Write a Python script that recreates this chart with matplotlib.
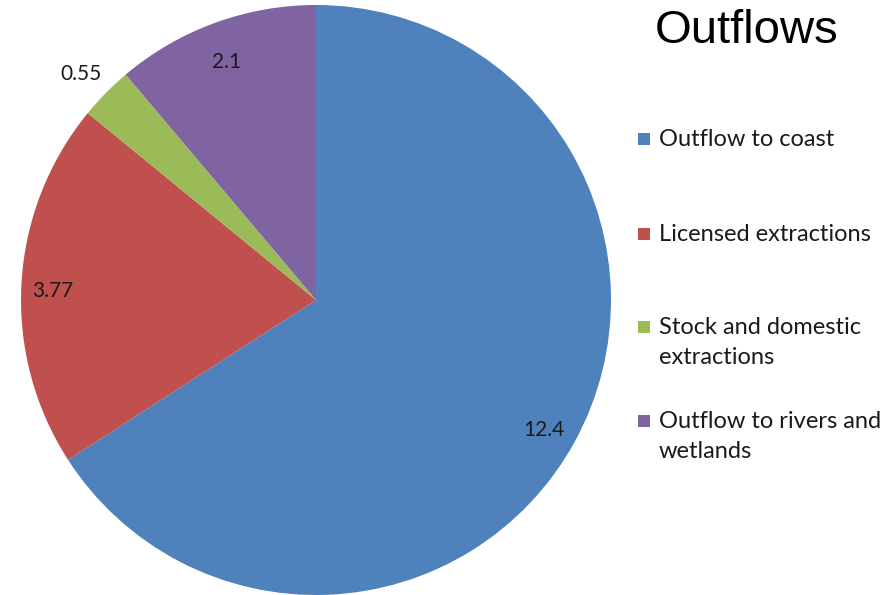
import matplotlib
matplotlib.use('Agg')
import matplotlib.pyplot as plt
from matplotlib.patches import Rectangle
import numpy as np

# Outflow components
categories = ['Outflow to coast', 'Licensed extractions',
              'Stock and domestic\nextractions', 'Outflow to rivers and\nwetlands']
values = [12.4, 3.77, 0.55, 2.1]
value_labels = ['12.4', '3.77', '0.55', '2.1']
colors = ['#4F81BD', '#C0504D', '#9BBB59', '#8064A2']
label_radius = [0.88, 0.895, 1.12, 0.88]

W, H = 894, 595
fig = plt.figure(figsize=(W / 100, H / 100), dpi=100)

ax = fig.add_axes([21 / W, 0, 590 / W, 590 / H])
wedges, _ = ax.pie(values, colors=colors, startangle=90, counterclock=False,
                   radius=1, wedgeprops=dict(linewidth=0))
ax.set_xlim(-1, 1)
ax.set_ylim(-1, 1)
ax.set_aspect('equal')
ax.axis('off')

for w, txt, r in zip(wedges, value_labels, label_radius):
    mid = np.deg2rad((w.theta1 + w.theta2) / 2)
    ax.text(r * np.cos(mid), r * np.sin(mid) - 0.02, txt, ha='center', va='center',
            fontsize=15, family='Lato', color='#1a1a1a')

fig.text(747 / W, 1 - 31 / H, 'Outflows', ha='center', va='center',
         fontsize=34, family='Liberation Sans', color='black')

# legend, built by hand so the row spacing follows the chart
row_y = [139, 234, 327, 421]
for y, name, c in zip(row_y, categories, colors):
    fig.patches.append(Rectangle((638 / W, 1 - (y + 6) / H), 12 / W, 12 / H,
                                 transform=fig.transFigure, facecolor=c,
                                 edgecolor='none'))
    fig.text(659 / W, 1 - (y - 10) / H, name, ha='left', va='top',
             fontsize=17, family='Lato', color='#1a1a1a', linespacing=1.55)

fig.savefig('out.png', dpi=100)
